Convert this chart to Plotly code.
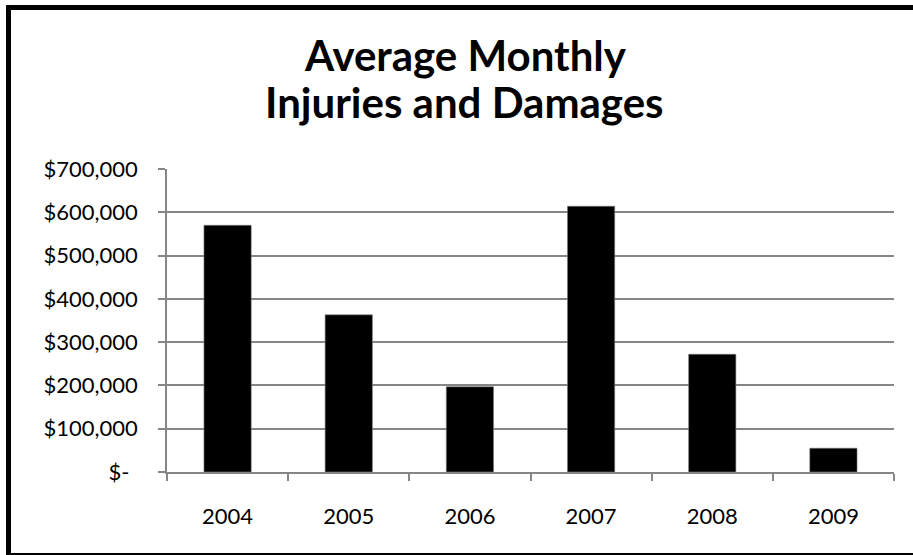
import plotly.graph_objects as go

years = ["2004", "2005", "2006", "2007", "2008", "2009"]
values = [570000, 363000, 197000, 614000, 272000, 55000]
y_tickvals = [0, 100000, 200000, 300000, 400000, 500000, 600000, 700000]
y_ticktext = ["$-\u00a0\u2009", "$100,000", "$200,000", "$300,000", "$400,000",
              "$500,000", "$600,000", "$700,000"]
title_lines = ["Average Monthly", "Injuries and Damages"]

W, H = 913, 555
L, R, T, B = 167, 19, 169, 83
pw, ph = W - L - R, H - T - B

def px2x(px):
    return (px - L) / pw

def py2y(py):
    return (H - B - py) / ph

fig = go.Figure(go.Bar(
    x=years, y=values,
    marker=dict(color="black", line=dict(color="#808080", width=0.6)),
    width=0.39,
))

title_centers = [(465.5, 55.5), (464.5, 102.5)]
annotations = [
    dict(text="<b>%s</b>" % t, xref="paper", yref="paper",
         x=px2x(cx), y=py2y(cy), xanchor="center", yanchor="middle",
         showarrow=False, font=dict(family="Lato", size=42, color="black"))
    for t, (cx, cy) in zip(title_lines, title_centers)
]

fig.update_layout(
    width=W, height=H,
    margin=dict(l=L, r=R, t=T, b=B),
    paper_bgcolor="white", plot_bgcolor="white",
    font=dict(family="Lato", size=22, color="black"),
    showlegend=False,
    annotations=annotations,
    xaxis=dict(
        type="category",
        showline=True, linecolor="#868686", linewidth=1.5,
        ticks="outside", tickson="boundaries", ticklen=7, tickcolor="#868686", tickwidth=1.5,
        ticklabelstandoff=24,
        showgrid=False,
    ),
    yaxis=dict(
        range=[0, 700000],
        tickvals=y_tickvals, ticktext=y_ticktext,
        showline=True, linecolor="#868686", linewidth=1.5,
        ticks="outside", ticklen=7, tickcolor="#868686", tickwidth=1.5,
        ticklabelstandoff=16,
        showgrid=True, gridcolor="#868686", gridwidth=1.5,
        zeroline=False,
    ),
    shapes=[dict(
        type="rect", xref="paper", yref="paper",
        x0=px2x(8.5), x1=px2x(925), y0=py2y(555.5), y1=py2y(7.5),
        line=dict(color="black", width=5), fillcolor="rgba(0,0,0,0)", layer="above",
    )],
)

fig.write_html("out.html")
